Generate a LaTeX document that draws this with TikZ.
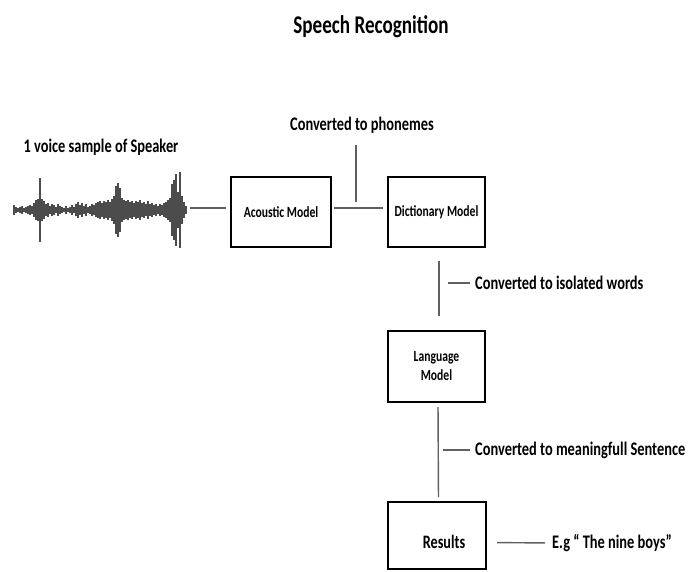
\documentclass[tikz,border=0pt]{standalone}
\usepackage{fontspec}
\setmainfont{Carlito}[FakeStretch=0.75]
\usetikzlibrary{positioning,calc}

\begin{document}
\begin{tikzpicture}[x=1pt, y=-1pt,
    model/.style={draw, line width=2pt, inner sep=0pt, align=center, font=\bfseries\fontsize{15.5}{19}\selectfont},
    note/.style={font=\bfseries\fontsize{19.2}{22}\selectfont, inner sep=0pt},
    link/.style={draw=gray!75!black, line width=1.4pt},
    wave/.style={draw=gray!60!black, line width=1.1pt}
]
\useasboundingbox (0,0) rectangle (699,571);

% Title
\node[font=\bfseries\fontsize{25.5}{28}\selectfont] (title) at (371,27) {Speech Recognition};

% Voice sample
\node[note] (sample) at (101,147) {1 voice sample of Speaker};
\draw[wave] (14,210) -- (186,210);
\foreach \x/\h in {14/5, 16/3, 18/2, 20/3, 22/4, 24/2, 26/3, 28/4, 30/5, 32/4, 34/7, 36/10, 38/11, 40/32,
    42/11, 44/9, 46/6, 48/7, 50/4, 52/6, 54/5, 56/3, 58/6, 60/4, 62/3, 64/2, 66/4, 68/2, 70/3, 72/5,
    74/3, 76/6, 78/8, 80/5, 82/7, 84/4, 86/6, 88/3, 90/4, 92/6, 94/5, 96/7, 98/8, 100/9, 102/7, 104/9,
    106/8, 108/10, 110/8, 112/11, 114/14, 116/24, 118/27, 120/22, 122/12, 124/10, 126/9, 128/10,
    130/8, 132/9, 134/7, 136/9, 138/8, 140/10, 142/7, 144/8, 146/6, 148/9, 150/6, 152/7, 154/5,
    156/6, 158/4, 160/6, 162/5, 164/7, 166/8, 168/10, 170/12, 172/26, 174/30, 176/36, 178/18,
    180/38, 182/14, 184/8, 186/4}
  \draw[wave] (\x,{210-\h}) -- (\x,{210+\h});
\coordinate (wave) at (190,208);

% Models
\node[model, minimum width=100, minimum height=70] (acoustic) at (281,212) {Acoustic Model};
\node[model, minimum width=97, minimum height=70] (dictionary) at (436.5,212) {Dictionary Model};
\node[model, minimum width=97, minimum height=71] (language) at (436.5,366.5) {Language\\Model};
\node[model, minimum width=98, minimum height=67] (results) at (437,535.5) {};
\node[font=\bfseries\fontsize{19}{21}\selectfont] (restext) at (444,542) {Results};

% Notes
\node[note] (phonemes) at (362,125) {Converted to phonemes};
\node[note, anchor=west] (isolated) at (475,283) {Converted to isolated words};
\node[note, anchor=west] (sentence) at (475,450) {Converted to meaningfull Sentence};
\node[note, anchor=west] (example) at (552,543) {E.g “ The nine boys”};

\coordinate (phontop) at (356,145);
\coordinate (phonend) at (356,202);
\coordinate (isotick) at (448,283);
\coordinate (sentick) at (443,450);

% Connectors
\draw[link, shorten >=4pt] (wave) -- (wave -| acoustic.west);
\draw[link, shorten <=2pt, shorten >=4pt] ([yshift=4pt]acoustic.east) -- ([yshift=4pt]dictionary.west);
\draw[link] (phontop) -- (phonend);
\draw[link, shorten <=13pt, shorten >=14pt] ([xshift=2.5pt]dictionary.south) -- ([xshift=2.5pt]language.north);
\draw[link, shorten >=5pt] (isotick) -- (isolated.west);
\draw[link, shorten <=4pt, shorten >=4pt] ([xshift=1.5pt]language.south) -- ([xshift=1.5pt]results.north);
\draw[link, shorten >=5pt] (sentick) -- (sentence.west);
\draw[link, shorten <=10pt, shorten >=7pt] ([yshift=-7pt]results.east) -- (example.west);

\end{tikzpicture}
\end{document}
